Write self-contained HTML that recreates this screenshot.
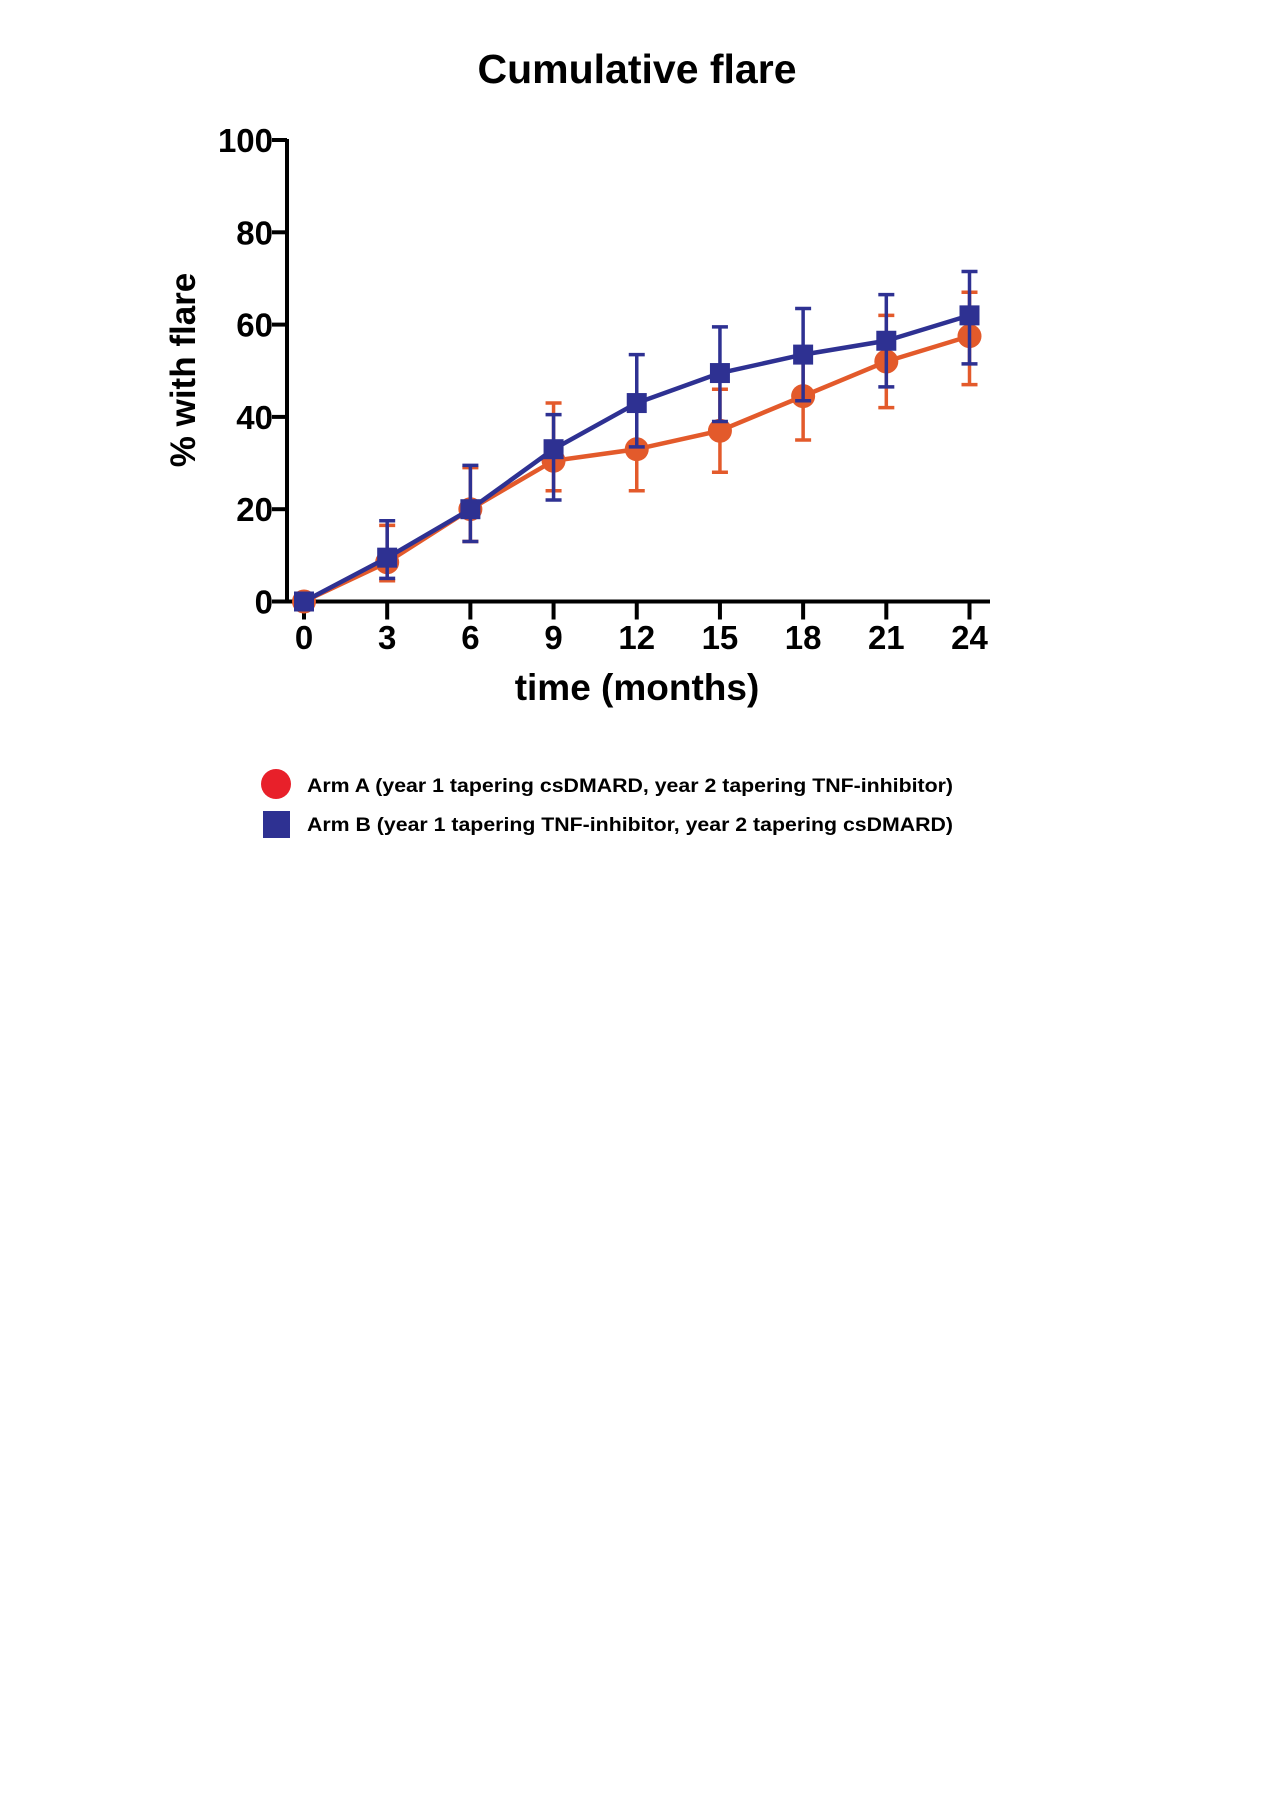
<!DOCTYPE html>
<html><head><meta charset="utf-8"><style>
html,body{margin:0;padding:0;background:#fff;}
svg{display:block;font-family:"Liberation Sans",Arial,sans-serif;}
</style></head><body>
<svg id="chart" width="1280" height="1813" viewBox="0 0 1280 1813" xmlns="http://www.w3.org/2000/svg">
<text x="637" y="83" text-anchor="middle" font-size="41" font-weight="bold" fill="#000">Cumulative flare</text>
<text transform="translate(195,370) rotate(-90)" text-anchor="middle" font-size="35" font-weight="bold" fill="#000">% with flare</text>
<text x="637" y="700" text-anchor="middle" font-size="37" font-weight="bold" fill="#000">time  (months)</text>
<g id="axes"></g>
<g id="series"></g>
<g>
<circle cx="276" cy="784" r="15" fill="#E8202A"/>
<text x="307" y="792" font-size="19" font-weight="bold" textLength="646" lengthAdjust="spacingAndGlyphs">Arm A (year 1 tapering csDMARD, year 2 tapering TNF-inhibitor)</text>
<rect x="263" y="811" width="27" height="27" fill="#2E3192"/>
<text x="307" y="831" font-size="19" font-weight="bold" textLength="646" lengthAdjust="spacingAndGlyphs">Arm B (year 1 tapering TNF-inhibitor, year 2 tapering csDMARD)</text>
</g>
</svg>
<script>
const months = [0,3,6,9,12,15,18,21,24];
const yTicks = [0,20,40,60,80,100];
const armA = [0,8.5,20,30.5,33,37,44.5,52,57.5];
const armALow = [0,4.5,13,24,24,28,35,42,47];
const armAHigh = [0,16.5,29,43,42,46,54,62,67];
const armB = [0,9.5,20,33,43,49.5,53.5,56.5,62];
const armBLow = [0,5,13,22,33.5,39,43.5,46.5,51.5];
const armBHigh = [0,17.5,29.5,40.5,53.5,59.5,63.5,66.5,71.5];

const NS='http://www.w3.org/2000/svg';
const X0=304, X1=969.5, Y0=601.5, Y1=140;
const X = v => X0 + (v/24)*(X1-X0);
const Y = v => Y0 - (v/100)*(Y0-Y1);
function mk(tag, attrs, parent){const e=document.createElementNS(NS,tag);for(const k in attrs)e.setAttribute(k,attrs[k]);parent.appendChild(e);return e;}
const axes=document.getElementById('axes');
let e;
e=mk('line',{x1:287,y1:Y(100)-1,x2:287,y2:Y0+2,stroke:'#000','stroke-width':4},axes);


e=mk('line',{x1:285,y1:Y0,x2:990,y2:Y0,stroke:'#000','stroke-width':4},axes);


yTicks.forEach(t=>{
  const tk=mk('line',{x1:272,y1:Y(t),x2:287,y2:Y(t),stroke:'#000','stroke-width':4},axes);
  
  
  const lb=mk('text',{x:273,y:Y(t)+12,'text-anchor':'end','font-size':33,'font-weight':'bold'},axes);
  lb.textContent=t;
  
  
});
months.forEach(m=>{
  const tk=mk('line',{x1:X(m),y1:Y0,x2:X(m),y2:Y0+18,stroke:'#000','stroke-width':4},axes);
  
  
  const lb=mk('text',{x:X(m),y:649,'text-anchor':'middle','font-size':33,'font-weight':'bold'},axes);
  lb.textContent=m;
  
  
});
const ser=document.getElementById('series');
function drawSeries(vals,lo,hi,color,shape,name){
  const g=mk('g',{},ser);
  
  
  months.forEach((m,i)=>{
    if(hi[i]===lo[i])return;
    const x=X(m);
    const b=mk('path',{d:`M${x},${Y(lo[i])}V${Y(hi[i])}M${x-8},${Y(lo[i])}h16M${x-8},${Y(hi[i])}h16`,stroke:color,'stroke-width':3.5,fill:'none'},g);
    
    
  });
  const l=mk('polyline',{points:months.map((m,i)=>X(m)+','+Y(vals[i])).join(' '),stroke:color,'stroke-width':4.5,fill:'none'},g);
  
  
  months.forEach((m,i)=>{
    let p;
    if(shape==='circle') p=mk('circle',{cx:X(m),cy:Y(vals[i]),r:12,fill:color},g);
    else p=mk('rect',{x:X(m)-10,y:Y(vals[i])-10,width:20,height:20,fill:color},g);
    
    
  });
}
drawSeries(armA,armALow,armAHigh,'#E35A2B','circle','arm-a');
drawSeries(armB,armBLow,armBHigh,'#2E3192','square','arm-b');
</script>
</body></html>
